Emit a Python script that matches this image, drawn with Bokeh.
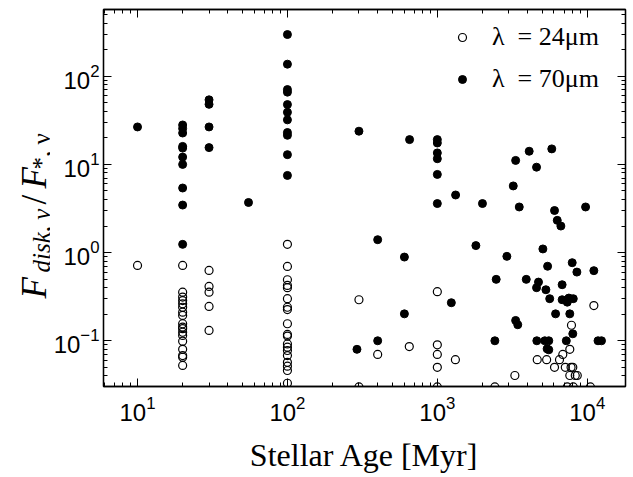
import math
from bokeh.plotting import figure
from bokeh.layouts import row
from bokeh.models import (LogAxis, LogTicker, Legend, LegendItem, Range1d,
                          ColumnDataSource, CustomJSTickFormatter)
from bokeh.core.properties import value
from bokeh.embed import file_html
from bokeh.resources import INLINE

# ---- data ----
age24 = [10,
         20, 20, 20, 20, 20, 20, 20, 20, 20, 20, 20, 20, 20, 20, 20, 20, 20, 20,
         30, 30, 30, 30, 30,
         100, 100, 100, 100, 100, 100, 100, 100, 100, 100, 100, 100, 100, 100, 100, 100, 100, 100, 100,
         300, 300, 400, 650,
         1000, 1000, 1000, 1000, 1000,
         1320, 2420, 3290, 4640, 5360, 6050, 6530, 6870, 7650, 7850,
         7140, 7800, 8010, 7650, 8320, 8580, 7360, 8070, 10500, 11070]
f24 = [0.716,
       0.716, 0.356, 0.313, 0.286, 0.263, 0.24, 0.211, 0.194, 0.156, 0.143, 0.137, 0.125, 0.115, 0.099, 0.080, 0.068, 0.065, 0.0525,
       0.628, 0.413, 0.356, 0.245, 0.131,
       1.24, 0.697, 0.492, 0.424, 0.40, 0.30, 0.24, 0.226, 0.156, 0.118, 0.113, 0.092, 0.0846, 0.0776, 0.068, 0.057, 0.0515, 0.046, 0.033,
       0.292, 0.03, 0.07, 0.086,
       0.36, 0.09, 0.07, 0.05, 0.03,
       0.061, 0.03, 0.0404, 0.061, 0.061, 0.05, 0.061, 0.07, 0.08, 0.15,
       0.05, 0.05, 0.05, 0.0404, 0.0404, 0.0404, 0.03, 0.03, 0.03, 0.251]

age70 = [10,
         20, 20, 20, 20, 20, 20, 20, 20, 20, 20,
         30, 30, 30, 30,
         55,
         100, 100, 100, 100, 100, 100, 100, 100, 100, 100, 100,
         291, 300, 400, 400, 603, 603, 653,
         1000, 1000, 1000, 1000, 1000, 1000,
         1240, 1324, 1808, 2000, 2420, 2470, 2910, 3210, 3330, 3330, 3440, 3520, 3920,
         4100, 4590, 4590, 4610, 4730, 5060, 5210, 5300, 5400, 5440, 5540, 5540, 5620,
         5800, 6050, 6150, 6310, 6670, 6800, 6800, 7250, 7360, 7540, 7650, 7940, 8010,
         8070, 8530, 9750, 11070, 11800, 12450]
f70 = [26.6,
       28, 25.5, 22.7, 16, 15.3, 12.1, 10, 5.4, 3.46, 1.24,
       54, 48, 26.6, 15.5,
       3.7,
       297, 137, 70.6, 66, 47.7, 39, 32, 23, 21.4, 12.9, 7.5,
       0.080, 23.8, 1.4, 0.1, 0.89, 0.202, 19.1,
       19.1, 17.5, 13.5, 11.6, 7.7, 3.6,
       0.27, 4.5, 1.2, 3.6, 0.1, 0.497, 0.906, 5.7, 11.1, 0.17, 0.152, 3.29, 0.497,
       14.1, 9.3, 0.40, 0.1, 0.463, 1.1, 0.1, 0.379, 0.081, 0.70, 0.1, 0.079, 0.30,
       15, 3.0, 0.202, 2.32, 2.0, 0.432, 0.292, 0.1, 0.274, 0.305, 0.202, 0.768, 0.12,
       0.30, 0.601, 3.29, 0.624, 0.1, 0.1]

legend_labels = ["λ\u00a0\u00a0= 24μm", "λ\u00a0\u00a0= 70μm"]
x_title = "Stellar Age [Myr]"
y_title_main = ["F", "/", "F"]
y_title_sub = ["disk, ν", "*, ν"]

W, H = 633, 477
WL = 50                      # width of the y-title strip
ML, MR, MT, MB = 103 - WL, 8, 9, 91

# ---------------- main plot ----------------
p = figure(width=W - WL, height=H, x_axis_type="log", y_axis_type="log",
           x_range=Range1d(5.93, 18000), y_range=Range1d(0.0303, 571),
           output_backend="svg", toolbar_location=None,
           min_border_left=ML, min_border_right=MR, min_border_top=MT, min_border_bottom=MB)
p.background_fill_color = "white"
p.border_fill_color = "white"
p.grid.visible = False
p.outline_line_color = "black"
p.outline_line_width = 1.3

src24 = ColumnDataSource(dict(x=age24, y=f24))
src70 = ColumnDataSource(dict(x=age70, y=f70))
r24 = p.scatter("x", "y", source=src24, marker="circle", size=8, fill_color=None,
                line_color="black", line_width=1.2)
r70 = p.scatter("x", "y", source=src70, marker="circle", size=8, fill_color="black",
                line_color="black", line_width=1)

def style_axis(ax, labels=True):
    ax.ticker = LogTicker(num_minor_ticks=10)
    ax.axis_line_color = "black"
    ax.axis_line_width = 1.3
    ax.major_tick_in = 8
    ax.major_tick_out = 0
    ax.minor_tick_in = 4
    ax.minor_tick_out = 0
    ax.major_tick_line_color = "black"
    ax.minor_tick_line_color = "black"
    ax.major_tick_line_width = 1
    ax.minor_tick_line_width = 1
    if labels:
        ax.major_label_text_font = "Liberation Sans"
        ax.major_label_text_font_size = "24px"
        ax.major_label_text_color = "black"
    else:
        ax.formatter = CustomJSTickFormatter(code="return ' ';")
        ax.major_label_text_font_size = "2px"
        ax.major_label_standoff = 0

style_axis(p.xaxis[0])
style_axis(p.yaxis[0])
p.xaxis[0].major_label_standoff = 9
p.yaxis[0].major_label_standoff = 4
p.xaxis[0].axis_label = x_title
p.xaxis[0].axis_label_text_font = "Liberation Serif"
p.xaxis[0].axis_label_text_font_style = "normal"
p.xaxis[0].axis_label_text_font_size = "32px"
p.xaxis[0].axis_label_text_color = "black"
p.xaxis[0].axis_label_standoff = 13

top = LogAxis()
right = LogAxis()
style_axis(top, labels=False)
style_axis(right, labels=False)
p.add_layout(top, "above")
p.add_layout(right, "right")

# legend (bottom-left corner given in frame pixels)
leg = Legend(items=[LegendItem(label=legend_labels[0], renderers=[r24]),
                    LegendItem(label=legend_labels[1], renderers=[r70])],
             location=(349, 286), padding=0, spacing=0, margin=0,
             glyph_height=42, glyph_width=20, label_height=42, label_standoff=20,
             border_line_color=None, background_fill_alpha=0,
             label_text_font="Liberation Serif", label_text_font_size="26px",
             label_text_color="black")
p.add_layout(leg)

# ---------------- y-title strip ----------------
# its frame is aligned with the main frame (rows share frame top/bottom),
# so the y range is set to page pixels of that frame
q = figure(width=WL, height=H, x_range=Range1d(0, WL), y_range=Range1d(H - MB, MT),
           x_axis_type=None, y_axis_type=None, output_backend="svg",
           toolbar_location=None, min_border_left=0, min_border_right=0,
           min_border_top=MT, min_border_bottom=MB)
q.grid.visible = False
q.outline_line_color = None
q.background_fill_color = "white"
q.border_fill_color = "white"

common = dict(angle=math.pi / 2, text_font=value("Liberation Serif"),
              text_align="left", text_baseline="alphabetic", text_color="black")
q.text(x=[34, 34], y=[298, 188], text=[y_title_main[0], y_title_main[2]],
       text_font_style="italic", text_font_size=value("35px"), **common)
q.text(x=[34], y=[204], text=[y_title_main[1]],
       text_font_style="normal", text_font_size=value("35px"), **common)
q.text(x=[41], y=[272], text=[y_title_sub[0]],
       text_font_style="italic", text_font_size=value("25px"), **common)
q.text(x=[41], y=[169], text=[y_title_sub[1]],
       text_font_style="normal", text_font_size=value("25px"), **common)

layout = row(q, p, spacing=0)
open("out.html", "w").write(file_html(layout, INLINE))
